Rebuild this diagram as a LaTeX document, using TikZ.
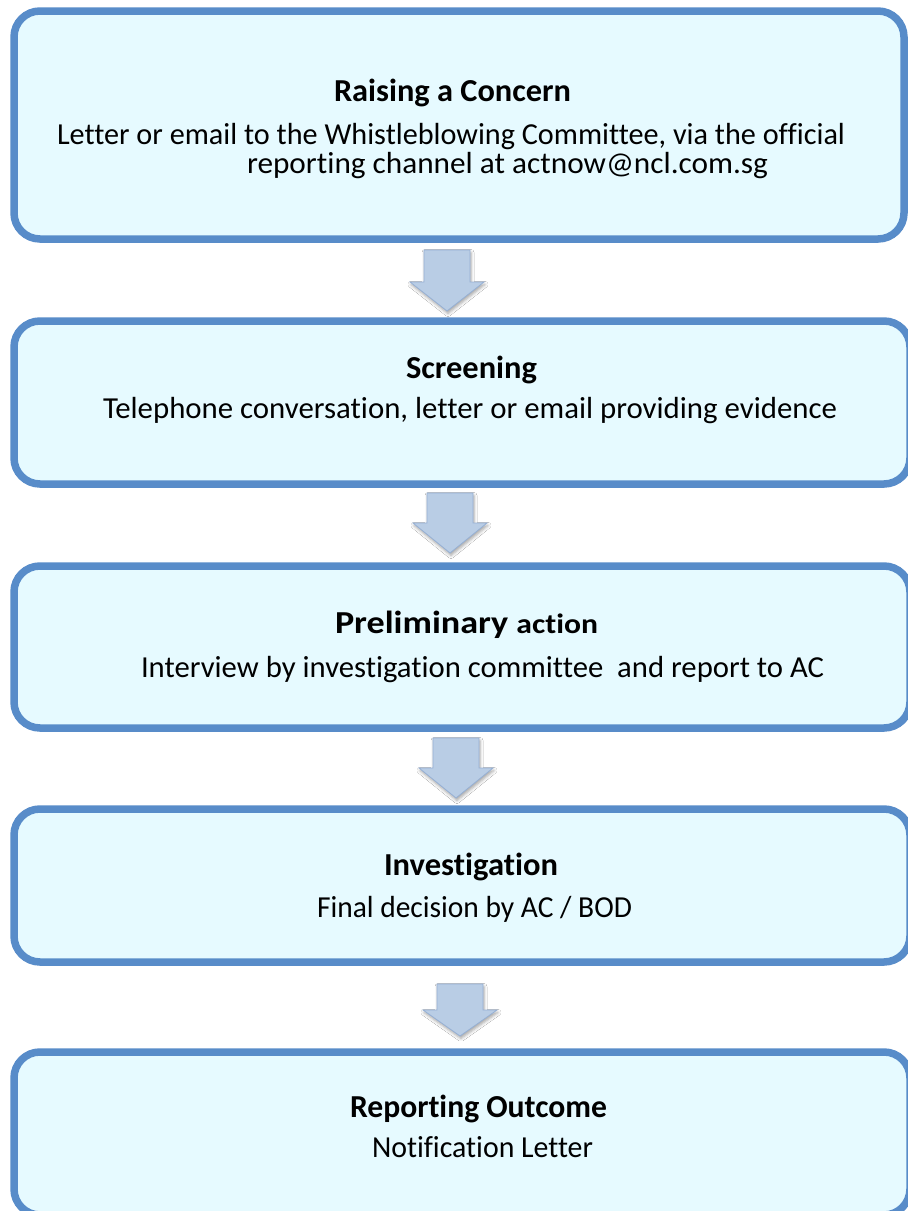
\documentclass[tikz,border=0pt]{standalone}
\usepackage{fontspec}
\setmainfont{Carlito}[Ligatures={NoCommon,NoRare}]
\usetikzlibrary{shadows.blur}
\definecolor{boxline}{RGB}{88,140,201}
\definecolor{boxfill}{RGB}{230,250,255}
\definecolor{arrfill}{RGB}{185,205,229}
\definecolor{arrline}{RGB}{150,176,212}
\newcommand{\fitw}[2]{\resizebox{#1}{\height}{#2}}
\newcommand{\blockarrow}[4]{%
  \filldraw[arrowshape] (#1-23,#2) -- (#1+23,#2) -- (#1+23,#3) -- (#1+37,#3)
    -- (#1,#4) -- (#1-37,#3) -- (#1-23,#3) -- cycle;}
\tikzset{
  stage/.style={draw=boxline, fill=boxfill, line width=7.5pt, rounded corners=26pt, inner sep=0pt},
  arrowshape/.style={fill=arrfill, draw=arrline, line width=0.8pt, line join=miter,
    blur shadow={shadow xshift=1pt, shadow yshift=-2.5pt, shadow blur radius=3pt, shadow opacity=35}},
  txt/.style={anchor=base west, inner sep=0pt, outer sep=0pt, font=\fontsize{30.5}{36}\selectfont},
  head/.style={txt, font=\fontsize{32}{38}\selectfont\bfseries}
}
\begin{document}
\begin{tikzpicture}[x=1pt, y=-1pt]
\useasboundingbox (0,0) rectangle (908,1211);
\clip (0,0) rectangle (908,1211);
\fill[white] (0,0) rectangle (908,1211);

% stage boxes
\node[stage, minimum width=890pt, minimum height=228pt] (b1) at (459,125) {};
\node[stage, minimum width=896pt, minimum height=163pt] (b2) at (462,402.5) {};
\node[stage, minimum width=896pt, minimum height=162pt] (b3) at (462,647) {};
\node[stage, minimum width=896pt, minimum height=153pt] (b4) at (462,885.5) {};
\node[stage, minimum width=896pt, minimum height=163pt] (b5) at (462,1133.5) {};

% block arrows between stages
\blockarrow{447}{250}{282}{311}
\blockarrow{450}{493}{523}{553}
\blockarrow{456}{738}{768}{798}
\blockarrow{460}{984}{1010}{1036}

% texts
\node[head] (h1) at (334,101) {\fitw{237pt}{Raising a Concern}};
\node[txt] (t1a) at (57,144) {\fitw{788pt}{Letter or email to the Whistleblowing Committee, via the official}};
\node[txt] (t1b) at (247,173) {\fitw{521pt}{reporting channel at actnow@ncl.com.sg}};

\node[head] (h2) at (406,378) {\fitw{131pt}{Screening}};
\node[txt] (t2) at (103,418) {\fitw{734pt}{Telephone conversation, letter or email providing evidence}};

\node[head] (h3) at (335,633) {\fitw{263pt}{Preliminary {\fontsize{28}{34}\selectfont action}}};
\node[txt] (t3) at (141,677) {\fitw{683pt}{Interview by investigation committee \ and report to AC}};

\node[head] (h4) at (384,875) {\fitw{174pt}{Investigation}};
\node[txt] (t4) at (317,917) {\fitw{315pt}{Final decision by AC / BOD}};

\node[head] (h5) at (350,1117) {\fitw{257pt}{Reporting Outcome}};
\node[txt] (t5) at (372,1157) {\fitw{221pt}{Notification Letter}};
\end{tikzpicture}
\end{document}
